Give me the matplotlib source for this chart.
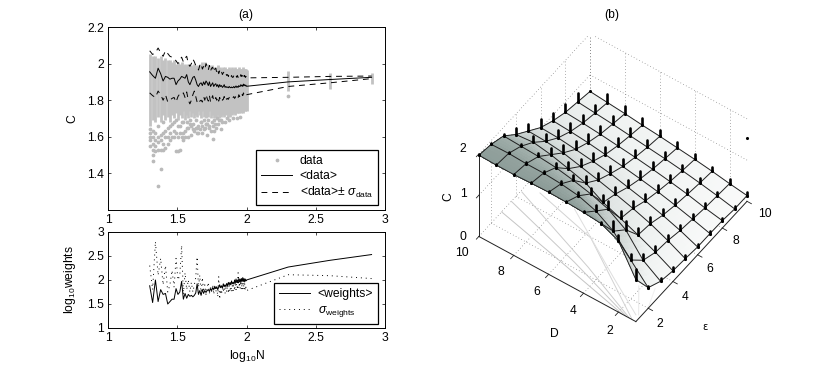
import numpy as np
import matplotlib
matplotlib.use("Agg")
import matplotlib.pyplot as plt
from matplotlib.colors import LinearSegmentedColormap

plt.rcParams['font.family'] = ['Liberation Sans', 'DejaVu Sans']
plt.rcParams['mathtext.fontset'] = 'custom'
plt.rcParams['mathtext.rm'] = 'Liberation Sans'
plt.rcParams['mathtext.it'] = 'Liberation Sans:italic'
plt.rcParams['mathtext.bf'] = 'Liberation Sans:bold'
plt.rcParams['font.size'] = 8.7

# panel (a): sample sizes and read-off values
n_vals = list(range(20, 101)) + [200, 400, 800]

mean_c = [1.955, 1.935, 1.92, 1.975, 1.945, 1.905, 1.93, 1.925, 1.915, 1.92,
          1.92, 1.885, 1.905, 1.915, 1.93, 1.925, 1.92, 1.94, 1.9, 1.885,
          1.905, 1.925, 1.93, 1.91, 1.885, 1.875, 1.89, 1.895, 1.88, 1.9,
          1.885, 1.905, 1.895, 1.88, 1.9, 1.875, 1.885, 1.895, 1.875, 1.885,
          1.89, 1.875, 1.885, 1.87, 1.885, 1.875, 1.88, 1.87, 1.875, 1.885,
          1.87, 1.875, 1.87, 1.872, 1.868, 1.875, 1.87, 1.868, 1.872, 1.868,
          1.87, 1.875, 1.868, 1.872, 1.878, 1.87, 1.875, 1.87, 1.88, 1.875,
          1.875, 1.885, 1.878, 1.882, 1.875, 1.888, 1.88, 1.885, 1.878, 1.882, 1.876,
          1.90, 1.913, 1.925]
upper_c = [2.07, 2.05, 2.06, 2.085, 2.06, 2.04, 2.07, 2.055, 2.04, 2.035,
           2.03, 2.015, 2.0, 2.02, 2.035, 2.01, 2.03, 2.04, 2.0, 1.985,
           2.0, 2.025, 2.01, 1.99, 1.98, 1.965, 1.99, 2.0, 1.97, 1.985,
           1.97, 2.0, 1.985, 1.965, 1.99, 1.96, 1.975, 1.98, 1.955, 1.97,
           1.975, 1.95, 1.965, 1.945, 1.96, 1.945, 1.955, 1.94, 1.95, 1.955,
           1.94, 1.945, 1.935, 1.94, 1.93, 1.94, 1.93, 1.925, 1.935, 1.925,
           1.925, 1.935, 1.925, 1.93, 1.935, 1.925, 1.935, 1.925, 1.935, 1.93,
           1.925, 1.94, 1.93, 1.935, 1.925, 1.94, 1.93, 1.935, 1.925, 1.93, 1.922,
           1.925, 1.93, 1.932]
lower_c = [1.84, 1.825, 1.815, 1.85, 1.83, 1.80, 1.83, 1.79, 1.80, 1.81,
           1.815, 1.79, 1.82, 1.835, 1.83, 1.84, 1.815, 1.845, 1.80, 1.78,
           1.80, 1.83, 1.85, 1.82, 1.79, 1.78, 1.795, 1.80, 1.79, 1.82,
           1.80, 1.83, 1.81, 1.795, 1.825, 1.79, 1.81, 1.825, 1.795, 1.80,
           1.815, 1.80, 1.815, 1.795, 1.815, 1.80, 1.81, 1.80, 1.805, 1.82,
           1.80, 1.81, 1.805, 1.81, 1.805, 1.815, 1.81, 1.81, 1.815, 1.81,
           1.815, 1.82, 1.81, 1.815, 1.825, 1.815, 1.82, 1.815, 1.83, 1.82,
           1.825, 1.835, 1.825, 1.83, 1.825, 1.84, 1.83, 1.835, 1.83, 1.835, 1.83,
           1.875, 1.895, 1.918]

# extent of the solid part of the grey cloud for each N
cloud_hi = [2.05, 2.04, 2.04, 2.03, 2.04, 2.02, 2.03, 2.02, 2.02, 2.01,
            2.02, 2.00, 2.01, 2.00, 2.01, 1.99, 2.00, 1.99, 2.00, 1.98,
            1.99, 1.98, 2.00, 1.98, 1.99, 1.98, 2.00, 1.98, 2.01, 1.98,
            2.01, 1.98, 2.00, 1.98, 1.99, 1.98, 1.99, 1.97, 1.98, 1.97,
            1.98, 1.97, 1.99, 1.97, 1.98, 1.97, 1.97, 1.97, 1.98, 1.97,
            1.98, 1.97, 1.97, 1.97, 1.97, 1.98, 1.97, 1.97, 1.98, 1.97,
            1.97, 1.97, 1.98, 1.97, 1.97, 1.97, 1.97, 1.97, 1.98, 1.97,
            1.97, 1.97, 1.97, 1.97, 1.98, 1.97, 1.97, 1.97, 1.97, 1.97, 1.965,
            1.958, 1.95, 1.95]
cloud_lo = [1.66, 1.69, 1.68, 1.71, 1.68, 1.72, 1.69, 1.71, 1.68, 1.72,
            1.70, 1.73, 1.69, 1.72, 1.70, 1.74, 1.69, 1.72, 1.70, 1.74,
            1.71, 1.73, 1.70, 1.72, 1.71, 1.74, 1.72, 1.70, 1.74, 1.71,
            1.73, 1.70, 1.72, 1.71, 1.74, 1.70, 1.72, 1.73, 1.70, 1.73,
            1.71, 1.73, 1.72, 1.70, 1.73, 1.71, 1.74, 1.72, 1.73, 1.71,
            1.73, 1.72, 1.74, 1.71, 1.73, 1.72, 1.71, 1.73, 1.74, 1.72,
            1.73, 1.74, 1.72, 1.73, 1.74, 1.73, 1.74, 1.73, 1.74, 1.73,
            1.74, 1.73, 1.74, 1.75, 1.73, 1.74, 1.75, 1.74, 1.74, 1.75, 1.74,
            1.85, 1.86, 1.89]

# isolated grey dots below the cloud
stray_n = [20, 20, 20, 20, 20, 21, 21, 21, 21, 21, 21, 22, 22, 22, 22, 23, 23, 23, 23,
           24, 24, 24, 24, 25, 25, 25, 26, 26, 27, 27, 28, 28, 29, 30, 30, 31, 31, 32, 32,
           33, 33, 34, 35, 35, 36, 38, 38, 40, 40, 42, 44, 44, 46, 48, 48, 50, 52, 52, 55,
           57, 57, 60, 62, 65, 65, 70, 75, 80, 85, 90, 200,
           23, 25, 27, 29, 31, 33, 35, 37, 39, 41, 43, 45, 47, 49, 51, 53, 54, 56, 58, 59,
           26, 28, 30, 32, 34, 36, 37, 39, 41, 43, 45, 47, 49, 51, 54, 58, 61, 63, 67, 72]
stray_c = [1.55, 1.58, 1.60, 1.62, 1.64, 1.47, 1.50, 1.53, 1.56, 1.60, 1.63, 1.52, 1.55, 1.58, 1.62,
           1.33, 1.53, 1.57, 1.60, 1.425, 1.53, 1.58, 1.61, 1.53, 1.56, 1.62, 1.54, 1.60, 1.56, 1.60,
           1.58, 1.62, 1.60, 1.60, 1.63, 1.52, 1.62, 1.525, 1.60, 1.53, 1.62, 1.60, 1.58, 1.62, 1.63,
           1.60, 1.65, 1.61, 1.66, 1.63, 1.62, 1.65, 1.64, 1.62, 1.66, 1.65, 1.61, 1.67, 1.63,
           1.59, 1.66, 1.65, 1.67, 1.64, 1.69, 1.68, 1.69, 1.70, 1.70, 1.71, 1.825,
           1.66, 1.68, 1.65, 1.67, 1.69, 1.66, 1.68, 1.65, 1.69, 1.67, 1.69, 1.66, 1.68, 1.69, 1.67, 1.69, 1.66, 1.68, 1.69, 1.67,
           1.63, 1.66, 1.68, 1.66, 1.68, 1.60, 1.68, 1.67, 1.64, 1.65, 1.62, 1.68, 1.64, 1.67, 1.65, 1.63, 1.70, 1.69, 1.68, 1.70]

mean_w = [1.88, 1.53, 2.0, 1.55, 1.8, 1.7, 1.72, 1.5, 1.55, 1.6,
          1.6, 1.82, 1.7, 1.75, 1.97, 1.6, 1.72, 1.62, 1.7, 1.66,
          1.68, 1.65, 1.68, 1.73, 1.92, 1.7, 1.78, 1.68, 1.8, 1.72,
          1.78, 1.74, 1.78, 1.8, 1.76, 1.82, 1.78, 1.84, 1.8, 1.87,
          1.82, 1.86, 1.8, 1.85, 1.9, 1.84, 1.88, 1.83, 1.92, 1.86,
          1.9, 1.86, 1.93, 1.88, 1.95, 1.9, 1.95, 1.9, 1.98, 1.92,
          1.95, 1.92, 2.0, 1.93, 2.02, 1.95, 2.0, 1.94, 2.03, 1.96,
          2.02, 1.95, 2.03, 1.97, 2.05, 1.97, 2.03, 1.96, 2.02, 1.98, 2.0,
          2.27, 2.41, 2.53]
sigma_w = [2.3, 1.8, 2.8, 2.1, 2.45, 1.9, 2.3, 1.75, 1.9, 2.2,
           1.85, 2.45, 2.0, 2.1, 2.72, 1.7, 2.15, 1.8, 2.0, 1.75,
           1.95, 1.75, 1.9, 2.05, 2.48, 1.85, 2.1, 1.7, 2.05, 1.75,
           1.9, 1.7, 1.85, 1.95, 1.72, 1.85, 1.75, 1.9, 1.7, 1.88,
           1.75, 1.85, 1.65, 2.07, 1.6, 1.8, 1.7, 1.88, 1.75, 1.9,
           1.72, 1.85, 1.75, 1.9, 1.72, 1.88, 1.75, 1.92, 1.75, 1.88,
           1.78, 1.95, 1.78, 1.92, 1.8, 1.98, 1.8, 2.15, 1.82, 1.95,
           1.82, 1.98, 1.8, 1.95, 1.82, 1.95, 1.8, 1.92, 1.78, 1.85, 1.78,
           2.11, 2.09, 2.03]

# panel (b): rows are epsilon 1..10, columns are D 10..1
eps_vals = [1, 2, 3, 4, 5, 6, 7, 8, 9, 10]
d_vals = [10, 9, 8, 7, 6, 5, 4, 3, 2, 1]
c_table = [[1.97, 1.96, 1.96, 1.98, 1.99, 1.98, 1.96, 1.92, 1.73, 1.02],
           [1.91, 1.92, 1.90, 1.90, 1.87, 1.81, 1.67, 1.41, 0.94, 0.50],
           [1.79, 1.77, 1.75, 1.71, 1.63, 1.53, 1.39, 1.12, 0.61, 0.33],
           [1.50, 1.54, 1.47, 1.36, 1.24, 1.00, 0.84, 0.67, 0.48, 0.26],
           [1.26, 1.24, 1.19, 1.09, 0.99, 0.88, 0.76, 0.62, 0.44, 0.23],
           [1.02, 1.00, 0.95, 0.89, 0.82, 0.72, 0.62, 0.50, 0.36, 0.19],
           [0.86, 0.83, 0.79, 0.73, 0.67, 0.60, 0.52, 0.42, 0.31, 0.19],
           [0.74, 0.71, 0.67, 0.62, 0.57, 0.51, 0.44, 0.36, 0.26, 0.18],
           [0.67, 0.63, 0.59, 0.54, 0.49, 0.44, 0.38, 0.31, 0.23, 0.14],
           [0.60, 0.56, 0.52, 0.47, 0.43, 0.38, 0.33, 0.27, 0.20, 0.14]]
err_table = [[.02, .02, .02, .02, .02, .02, .03, .03, .14, .25],
             [.03, .03, .03, .04, .06, .10, .14, .25, .15, .05],
             [.05, .06, .08, .10, .12, .15, .20, .22, .16, .08],
             [.16, .16, .16, .17, .17, .18, .18, .18, .16, .10],
             [.18, .18, .18, .18, .18, .18, .17, .17, .14, .08],
             [.20, .20, .20, .19, .19, .18, .17, .16, .13, .07],
             [.20, .20, .20, .19, .19, .18, .16, .15, .12, .07],
             [.20, .20, .19, .18, .18, .17, .15, .14, .11, .06],
             [.22, .20, .19, .18, .17, .16, .14, .13, .10, .06],
             [.00, .21, .19, .17, .16, .14, .12, .11, .11, .08]]

contour_d = [[10, 6.09, 1.75], [10, 5.44, 1.53], [9.93, 4.76, 1.39], [9.2, 5.67, 2.89, 1.21],
             [7.31, 3.47, 1.24], [2.15, 1.13], [1.43, 1]]
contour_e = [[2.84, 1.98, 1], [3.63, 2.30, 1], [4.38, 2.43, 1.01], [4.82, 3.95, 2.11, 1],
             [4.95, 2.63, 1.34], [2.86, 1.41], [3.16, 1.97]]
contour_colors = ['#c4c4c4', '#c8c8c8', '#cccccc', '#d2d2d2', '#dedede', '#e8e8e8', '#f0f0f0']
stray_point = (10, 1, 1.53)


def refine(a, k):
    # bilinear shading grid, like shading interp
    a = np.asarray(a, dtype=float)
    rows = np.linspace(0, a.shape[0] - 1, (a.shape[0] - 1) * k + 1)
    cols = np.linspace(0, a.shape[1] - 1, (a.shape[1] - 1) * k + 1)
    by_col = np.array([np.interp(cols, np.arange(a.shape[1]), r) for r in a])
    return np.array([np.interp(rows, np.arange(a.shape[0]), c) for c in by_col.T]).T


fig = plt.figure(figsize=(8.3, 3.71), dpi=100)
W, H = 830.0, 371.0

# (a) top
ax1 = fig.add_axes([108 / W, (H - 210) / H, 277 / W, 183 / H])
logn = np.log10(n_vals)
ax1.vlines(logn, cloud_lo, cloud_hi, color='#c2c2c2', lw=2.0, zorder=1)
ax1.plot(np.log10(stray_n), stray_c, ls='none', marker='o', ms=1.7, mfc='#bababa', mec='#bababa', label='data', zorder=1)
ax1.plot(logn, mean_c, color='k', lw=0.7, label='<data>', zorder=3)
ax1.plot(logn, upper_c, color='k', lw=0.7, ls=(0, (6, 5)), label=r'<data>$\pm$ $\sigma_{\rm data}$', zorder=3)
ax1.plot(logn, lower_c, color='k', lw=0.7, ls=(0, (6, 5)), zorder=3)
ax1.set_xlim(1, 3)
ax1.set_ylim(1.2, 2.2)
ax1.set_yticks([1.4, 1.6, 1.8, 2, 2.2])
ax1.set_yticklabels(['1.4', '1.6', '1.8', '2', '2.2'])
ax1.set_ylabel('C')
ax1.yaxis.set_label_coords(-30 / 277, 0.5)
leg1 = ax1.legend(loc='lower right', bbox_to_anchor=(0.975, 0.027), borderaxespad=0, fancybox=False,
                  framealpha=1, edgecolor='k', fontsize=8.7, handlelength=2.6, handletextpad=0.6,
                  borderpad=0.4, labelspacing=0.25)
leg1.get_frame().set_linewidth(0.9)

# (a) bottom
ax2 = fig.add_axes([108 / W, (H - 328) / H, 277 / W, 96 / H])
ax2.plot(logn, mean_w, color='k', lw=0.7, label='<weights>')
ax2.plot(logn, sigma_w, color='k', lw=0.7, ls=(0, (1, 4)), label=r'$\sigma_{\rm weights}$')
ax2.set_xlim(1, 3)
ax2.set_ylim(1, 3)
ax2.set_yticks([1, 1.5, 2, 2.5, 3])
ax2.set_yticklabels(['1', '1.5', '2', '2.5', '3'])
ax2.set_xlabel(r'log$_{10}$N', labelpad=3)
ax2.set_ylabel(r'log$_{10}$weights')
ax2.yaxis.set_label_coords(-30 / 277, 0.5)
leg2 = ax2.legend(loc='lower right', bbox_to_anchor=(0.975, 0.04), borderaxespad=0, fancybox=False,
                  framealpha=1, edgecolor='k', fontsize=8.7, handlelength=2.6, handletextpad=0.6,
                  borderpad=0.4, labelspacing=0.35)
leg2.get_frame().set_linewidth(0.9)

for ax in (ax1, ax2):
    ax.set_xticks([1, 1.5, 2, 2.5, 3])
    ax.set_xticklabels(['1', '1.5', '2', '2.5', '3'])
    ax.tick_params(direction='in', top=True, right=True, length=2.5, width=0.5, pad=3)
    for s in ax.spines.values():
        s.set_linewidth(0.7)

fig.text(246 / W, 1 - 15 / H, '(a)', ha='center', va='center')
fig.text(612 / W, 1 - 15 / H, '(b)', ha='center', va='center')

# (b) surface, everything in data coordinates of the 3d axes
ax3 = fig.add_axes([463 / W, 43.4 / H, 292 / W, 292 / H], projection='3d', computed_zorder=False)
ax3.set_proj_type('ortho')
ax3.set_box_aspect((1, 1, 0.667))
ax3.view_init(elev=50, azim=-144.7)
ax3.set_xlim(1, 10, view_margin=0)
ax3.set_ylim(1, 10, view_margin=0)
ax3.set_zlim(0, 2, view_margin=0)
ax3.set_axis_off()
ax3.patch.set_alpha(0)

dot = dict(color='#666666', lw=0.5, ls=(0, (1, 3.5)), zorder=0)
for e in [2, 4, 6, 8, 10]:
    ax3.plot([e, e], [10, 10], [0, 2], **dot)
    ax3.plot([e, e], [1, 10], [0, 0], **dot)
for d in [2, 4, 6, 8, 10]:
    ax3.plot([10, 10], [d, d], [0, 2], **dot)
    ax3.plot([1, 10], [d, d], [0, 0], **dot)
for z in [1, 2]:
    ax3.plot([1, 10], [10, 10], [z, z], **dot)
    ax3.plot([10, 10], [1, 10], [z, z], **dot)

E, D = np.meshgrid(eps_vals, d_vals, indexing='ij')
Z = np.array(c_table)
Err = np.array(err_table)

for cd, ce, col in zip(contour_d, contour_e, contour_colors):
    ax3.plot(ce, cd, np.zeros(len(cd)), color=col, lw=0.7, zorder=1)

cmap = LinearSegmentedColormap.from_list('c', [(0, '#fcfcfc'), (0.3, '#eff2f1'), (0.5, '#dde2e1'),
                                               (0.75, '#c5cdcb'), (0.9, '#a0aeaa'), (1, '#8a9a96')])
ax3.plot_surface(refine(E, 5), refine(D, 5), refine(Z, 5), rstride=1, cstride=1, cmap=cmap, vmin=0, vmax=2,
                 linewidth=0, shade=False, antialiased=False, zorder=2)
ax3.plot_wireframe(E, D, Z, rstride=1, cstride=1, color='#202020', linewidth=0.7, zorder=2.5)

for i in range(len(eps_vals)):
    for j in range(len(d_vals)):
        ax3.plot([E[i, j], E[i, j]], [D[i, j], D[i, j]], [Z[i, j], Z[i, j] + Err[i, j]],
                 color='k', lw=1.9, solid_capstyle='round', zorder=3)
ax3.scatter(E.ravel(), D.ravel(), Z.ravel(), s=1.5, c='k', depthshade=False, zorder=3)
ax3.scatter(*stray_point, s=1.5, c='k', depthshade=False, zorder=3)

# solid front axes and ticks
ax3.plot([1, 1], [10, 10], [0, 2], color='#222222', lw=0.7, zorder=1.5)
ax3.plot([1, 1], [10, 1], [0, 0], color='#222222', lw=0.7, zorder=1.5)
ax3.plot([1, 10], [1, 1], [0, 0], color='#222222', lw=0.7, zorder=1.5)
for d in [2, 4, 6, 8]:
    ax3.plot([1, 0.75], [d, d], [0, 0], color='#222222', lw=0.6, zorder=1.5)
for e in [2, 4, 6, 8, 10]:
    ax3.plot([e, e], [1, 0.75], [0, 0], color='#222222', lw=0.6, zorder=1.5)
for z in [0, 1, 2]:
    ax3.plot([0.8, 1], [10, 10], [z, z], color='#222222', lw=0.6, zorder=1.5)

for lab, x, y in zip(['2', '1', '0'], [463, 463, 463], [149, 194, 237]):
    fig.text(x / W, 1 - y / H, lab, ha='center', va='center')
for lab, x, y in zip(['10', '8', '6', '4', '2'], [462, 501, 537, 573, 610], [253, 272, 292, 311, 331]):
    fig.text(x / W, 1 - y / H, lab, ha='center', va='center')
for lab, x, y in zip(['2', '4', '6', '8', '10'], [660, 685, 710, 736, 765], [324, 297, 269, 241, 214]):
    fig.text(x / W, 1 - y / H, lab, ha='center', va='center')
fig.text(448 / W, 1 - 197 / H, 'C', ha='center', va='center', rotation=90)
fig.text(554 / W, 1 - 334 / H, 'D', ha='center', va='center')
fig.text(705 / W, 1 - 327 / H, '\u03b5', ha='center', va='center', family=['DejaVu Sans'], fontsize=7)

fig.savefig('out.png', dpi=100)
